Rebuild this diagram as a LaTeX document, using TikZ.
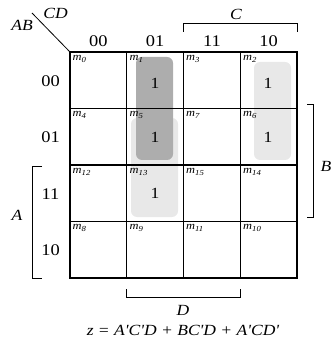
\documentclass[tikz,border=0pt]{standalone}
\usepackage{fontspec}
\setmainfont[FakeStretch=1.13,Ligatures=TeXOff]{Liberation Serif}
\begin{document}
\begin{tikzpicture}[x=1pt,y=-1pt,
  grid/.style={line width=1.4pt},
  brk/.style={line width=0.8pt},
  lbl/.style={font=\fontsize{16.3}{18}\selectfont, inner sep=0pt},
  ilbl/.style={font=\fontsize{15.5}{17}\selectfont\itshape, inner sep=0pt},
  mt/.style={font=\fontsize{11}{12}\selectfont\itshape, anchor=north west, inner sep=0pt},
  one/.style={font=\fontsize{15.5}{17}\selectfont, inner sep=0pt},
  darkg/.style={fill=black!32, rounded corners=6pt},
  lightg/.style={fill=black!9, rounded corners=6pt}]
\useasboundingbox (0,0) rectangle (333,347);
% shaded groups
\fill[lightg] (131,118) rectangle (178,217);
\fill[lightg] (254,62) rectangle (291,160);
\fill[darkg] (136,57) rectangle (173,160);
% grid
\draw[grid] (70,52) rectangle (297,278);
\foreach \x in {126.75,183.5,240.25} \draw[grid] (\x,52) -- (\x,278);
\foreach \y in {108.5,165,221.5} \draw[grid] (70,\y) -- (297,\y);
% corner
\coordinate (corner) at (70,52);
\coordinate (diag) at (32,13);
\draw[line width=0.8pt] (corner) -- (diag);
\node[ilbl] (ab) at (22,25) {AB};
\node[ilbl] (cd) at (55.5,13) {CD};
% column labels
\node[lbl] (c00) at (98.4,41.5) {00};
\node[lbl] (c01) at (155.1,41.5) {01};
\node[lbl] (c11) at (211.9,41.5) {11};
\node[lbl] (c10) at (268.6,41.5) {10};
% row labels
\node[lbl] (r00) at (50.5,81) {00};
\node[lbl] (r01) at (50.5,137.5) {01};
\node[lbl] (r11) at (50.5,194) {11};
\node[lbl] (r10) at (50.5,250.5) {10};
% minterms
\node[mt] (m0) at (72.5,55) {m\textsubscript{0}};
\node[mt] (m1) at (129.5,55) {m\textsubscript{1}};
\node[mt] (m3) at (186,55) {m\textsubscript{3}};
\node[mt] (m2) at (243,55) {m\textsubscript{2}};
\node[mt] (m4) at (72.5,111.5) {m\textsubscript{4}};
\node[mt] (m5) at (129.5,111.5) {m\textsubscript{5}};
\node[mt] (m7) at (186,111.5) {m\textsubscript{7}};
\node[mt] (m6) at (243,111.5) {m\textsubscript{6}};
\node[mt] (m12) at (72.5,168) {m\textsubscript{12}};
\node[mt] (m13) at (129.5,168) {m\textsubscript{13}};
\node[mt] (m15) at (186,168) {m\textsubscript{15}};
\node[mt] (m14) at (243,168) {m\textsubscript{14}};
\node[mt] (m8) at (72.5,224.5) {m\textsubscript{8}};
\node[mt] (m9) at (129.5,224.5) {m\textsubscript{9}};
\node[mt] (m11) at (186,224.5) {m\textsubscript{11}};
\node[mt] (m10) at (243,224.5) {m\textsubscript{10}};
% ones
\node[one] (o1) at (155,83) {1};
\node[one] (o2) at (268,83) {1};
\node[one] (o5) at (155,137) {1};
\node[one] (o6) at (268,137) {1};
\node[one] (o13) at (155,193) {1};
% brackets
\draw[brk] (183.5,32) -- (183.5,23.5) -- (297,23.5) -- (297,32);
\node[ilbl] (C) at (236,14) {C};
\draw[brk] (307,104.5) -- (313.5,104.5) -- (313.5,217) -- (307,217);
\node[ilbl] (B) at (326,166) {B};
\draw[brk] (42,166) -- (32.5,166) -- (32.5,278) -- (42,278);
\node[ilbl] (A) at (17,215) {A};
\draw[brk] (126.5,289) -- (126.5,297.5) -- (240,297.5) -- (240,289);
\node[ilbl] (D) at (183,310) {D};
\node[ilbl] (eq) at (183,330) {z = A'C'D + BC'D + A'CD'};
\end{tikzpicture}
\end{document}
